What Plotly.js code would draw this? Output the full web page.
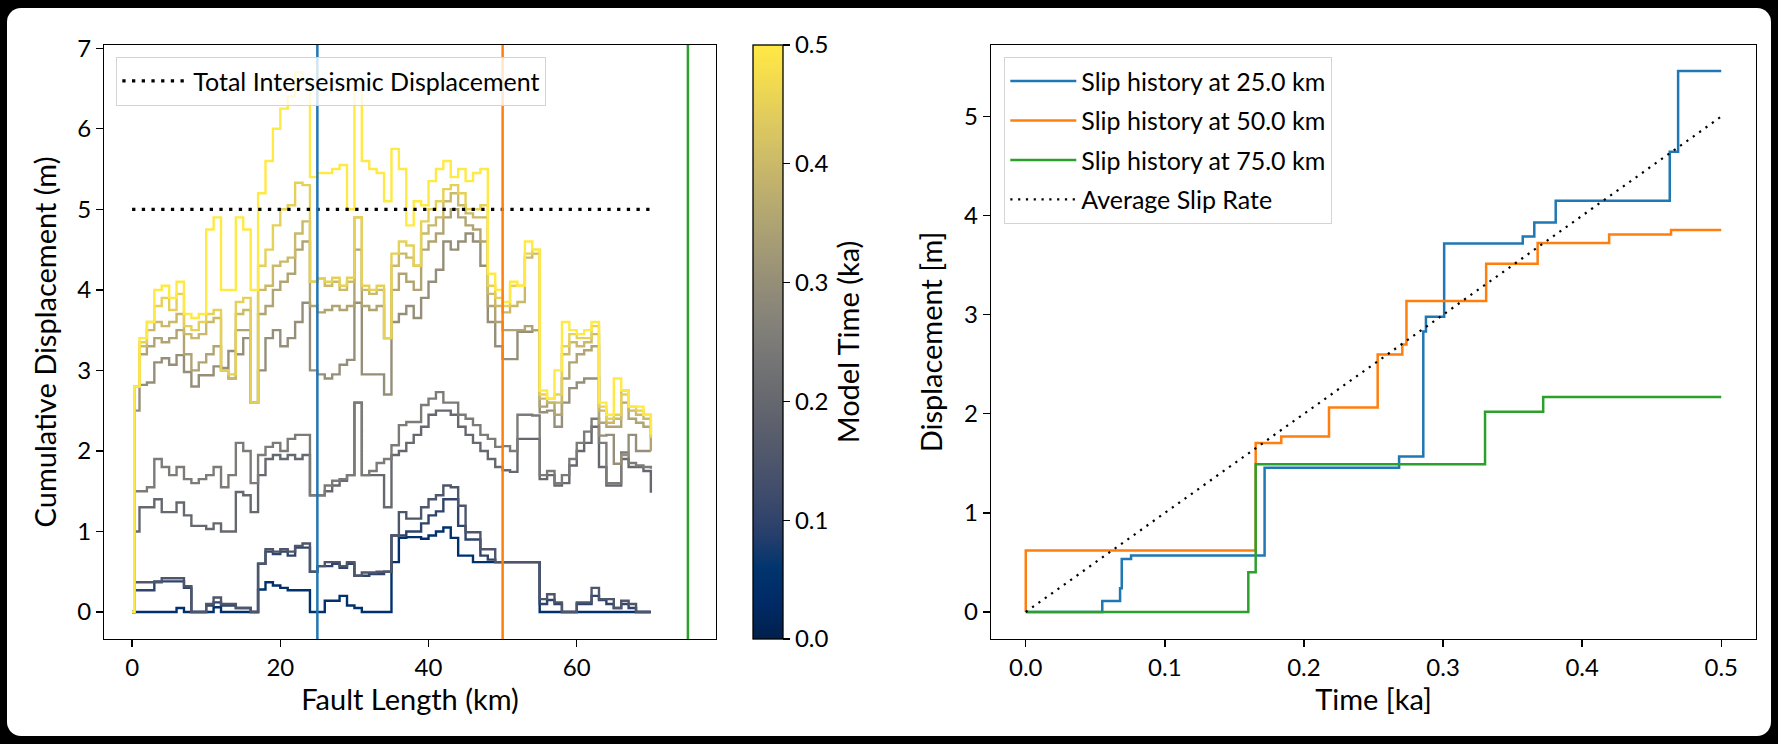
<!DOCTYPE html>
<html>
<head>
<meta charset="utf-8">
<script src="https://cdn.plot.ly/plotly-3.0.1.min.js"></script>
<style>
html,body{margin:0;padding:0;background:#000;}
#frame{position:absolute;left:7px;top:8px;width:1764px;height:728px;background:#fff;border-radius:14px;}
#chart{position:absolute;left:0;top:0;width:1778px;height:744px;}
</style>
</head>
<body>
<div id="frame"></div>
<div id="chart"></div>
<script>
// ---------- Left panel data: cumulative displacement along the fault ----------
const faultKm = [0, 0.3, 1, 2, 3, 4, 5, 6, 7, 8, 9, 10, 11, 12, 13, 14, 15, 16, 17, 18, 19, 20,
  21, 22, 23, 24, 25, 26, 27, 28, 29, 30, 31, 32, 33, 34, 35, 36, 37, 38, 39, 40,
  41, 42, 43, 44, 45, 46, 47, 48, 49, 50, 51, 52, 53, 54, 55, 56, 57, 58, 59, 60,
  61, 62, 63, 64, 65, 66, 67, 68, 69, 70];

const snapshotTimes = [0.05, 0.10, 0.15, 0.20, 0.25, 0.30, 0.35, 0.40, 0.45, 0.50];

const disp_t005 = [0, 0,
  0, 0, 0, 0, 0, 0.05, 0, 0, 0, 0,
  0.06, 0, 0, 0, 0, 0, 0.28, 0.37, 0.33, 0.3,
  0.27, 0.27, 0.27, 0, 0, 0.14, 0.14, 0.2, 0.08, 0.05,
  0, 0, 0, 0, 0.62, 0.92, 0.93, 0.93, 0.91, 0.95,
  1.0, 1.05, 0.92, 0.7, 0.7, 0.62, 0.62, 0.62, 0.62, 0.62,
  0.62, 0.62, 0.62, 0.62, 0, 0, 0, 0, 0, 0,
  0, 0, 0, 0, 0, 0, 0, 0, 0, 0];
const disp_t010 = [0, 0.27,
  0.27, 0.27, 0.38, 0.38, 0.38, 0.38, 0.3, 0, 0, 0.08,
  0.12, 0.08, 0.08, 0.05, 0.05, 0, 0.6, 0.75, 0.72, 0.75,
  0.7, 0.8, 0.8, 0.5, 0.57, 0.57, 0.6, 0.55, 0.6, 0.45,
  0.45, 0.47, 0.47, 0.5, 0.95, 0.95, 1.0, 1.0, 1.1, 1.2,
  1.25, 1.4, 1.4, 1.07, 0.9, 0.9, 0.7, 0.65, 0.62, 0.62,
  0.62, 0.62, 0.62, 0.62, 0.1, 0.15, 0.1, 0, 0, 0.1,
  0.1, 0.2, 0.15, 0.1, 0.05, 0.1, 0.05, 0, 0, 0];
const disp_t015 = [0, 0.37,
  0.37, 0.37, 0.37, 0.42, 0.42, 0.42, 0.32, 0, 0, 0.1,
  0.18, 0.1, 0.1, 0.05, 0.05, 0, 0.6, 0.78, 0.75, 0.78,
  0.75, 0.82, 0.85, 0.5, 0.57, 0.62, 0.62, 0.57, 0.62, 0.45,
  0.49, 0.49, 0.5, 0.5, 0.95, 1.24, 1.16, 1.16, 1.3, 1.4,
  1.45, 1.57, 1.55, 1.32, 0.99, 0.99, 0.78, 0.78, 0.62, 0.62,
  0.62, 0.62, 0.62, 0.62, 0.16, 0.22, 0.12, 0, 0, 0.12,
  0.12, 0.3, 0.16, 0.16, 0.05, 0.14, 0.1, 0, 0, 0];
const disp_t020 = [0, 1.0,
  1.3, 1.3, 1.4, 1.24, 1.24, 1.36, 1.2, 1.07, 1.07, 1.03,
  1.1, 1.0, 1.0, 1.49, 1.45, 1.24, 1.7, 1.9, 1.95, 1.9,
  1.95, 1.9, 1.95, 1.45, 1.45, 1.5, 1.57, 1.63, 1.7, 2.6,
  1.7, 1.7, 1.7, 1.3, 1.95, 2.0, 2.1, 2.2, 2.3, 2.45,
  2.5, 2.5, 2.45, 2.3, 2.2, 2.1, 2.0, 1.9, 1.8, 1.76,
  1.74, 2.15, 2.15, 2.15, 1.65, 1.7, 1.57, 1.6, 1.82, 2.0,
  2.1, 2.3, 1.8, 1.57, 1.57, 1.9, 1.8, 1.8, 1.75, 1.48];
const disp_t025 = [0, 1.5,
  1.5, 1.55, 1.9, 1.8, 1.7, 1.8, 1.65, 1.6, 1.65, 1.7,
  1.8, 1.55, 1.7, 2.1, 2.0, 1.6, 1.95, 2.05, 2.1, 2.0,
  2.15, 2.2, 2.2, 1.45, 1.45, 1.57, 1.63, 1.65, 1.7, 2.6,
  1.7, 1.75, 1.85, 1.9, 2.07, 2.32, 2.36, 2.36, 2.57, 2.65,
  2.73, 2.6, 2.6, 2.45, 2.4, 2.32, 2.2, 2.15, 2.05, 2.06,
  2.0, 2.45, 2.45, 2.44, 1.7, 1.75, 1.6, 1.7, 1.9, 2.1,
  2.24, 2.4, 2.1, 1.6, 1.6, 1.98, 1.85, 1.82, 1.8, 1.78];
const disp_t030 = [0, 2.5,
  2.82, 2.85, 3.1, 3.15, 3.07, 3.19, 2.98, 2.8, 2.94, 2.94,
  3.05, 3.03, 3.24, 3.2, 3.4, 2.6, 3.0, 3.4, 3.5, 3.3,
  3.4, 3.6, 3.84, 3.0, 2.95, 2.9, 2.95, 3.07, 3.13, 3.84,
  2.95, 2.95, 2.95, 2.7, 3.6, 3.7, 3.8, 3.65, 3.9, 4.1,
  4.25, 4.6, 4.5, 4.6, 4.7, 4.6, 4.3, 3.6, 3.3, 3.14,
  3.14, 3.48, 3.48, 3.5, 2.48, 2.5, 2.3, 2.6, 2.78, 2.85,
  2.9, 2.9, 2.19, 2.2, 1.84, 1.95, 2.2, 2.0, 2.0, 2.0];
const disp_t035 = [0, 2.8,
  3.2, 3.3, 3.4, 3.35, 3.4, 3.5, 3.2, 3.0, 3.1, 3.2,
  3.3, 3.0, 2.9, 3.5, 3.5, 2.6, 3.7, 3.8, 4.0, 4.1,
  4.2, 4.5, 4.6, 3.8, 3.72, 3.75, 3.8, 3.75, 3.8, 4.5,
  3.8, 3.75, 3.8, 3.4, 4.0, 4.2, 4.1, 4.0, 4.5, 4.6,
  4.7, 4.9, 5.0, 4.9, 4.8, 4.75, 4.6, 3.8, 3.6, 3.5,
  3.5, 3.5, 3.55, 3.5, 2.55, 2.6, 2.45, 2.9, 3.1, 3.2,
  3.25, 3.3, 2.35, 2.3, 2.3, 2.6, 2.4, 2.35, 2.3, 2.0];
const disp_t040 = [0, 2.8,
  3.3, 3.5, 3.6, 3.55, 3.6, 3.7, 3.45, 3.4, 3.45, 3.6,
  3.65, 3.0, 2.9, 3.7, 3.75, 2.6, 4.0, 4.05, 4.3, 4.35,
  4.4, 4.7, 4.85, 4.1, 4.14, 4.05, 4.1, 4.0, 4.1, 4.9,
  4.0, 3.95, 4.0, 3.4, 4.3, 4.45, 4.4, 4.3, 4.7, 4.8,
  4.9, 5.1, 5.2, 5.05, 4.95, 4.9, 4.9, 3.95, 3.8, 3.72,
  3.8, 3.85, 4.4, 4.45, 2.65, 2.6, 2.6, 3.2, 3.35, 3.3,
  3.35, 3.45, 2.5, 2.35, 2.4, 2.75, 2.5, 2.45, 2.4, 2.16];
const disp_t045 = [0, 2.8,
  3.35, 3.6, 3.8, 3.9, 3.75, 3.95, 3.55, 3.5, 3.6, 3.7,
  3.75, 3.0, 2.95, 3.85, 3.9, 2.6, 4.3, 4.5, 4.8, 5.0,
  5.05, 5.33, 5.3, 4.1, 4.14, 4.1, 4.15, 4.05, 4.15, 4.9,
  4.05, 4.0, 4.05, 3.4, 4.45, 4.6, 4.55, 4.3, 4.85, 5.0,
  5.1, 5.25, 5.3, 5.2, 5.0, 5.0, 5.05, 4.05, 3.9, 3.8,
  4.05, 4.05, 4.45, 4.5, 2.7, 2.65, 2.7, 3.3, 3.45, 3.4,
  3.4, 3.55, 2.55, 2.4, 2.45, 2.7, 2.55, 2.5, 2.45, 2.16];
const disp_t050 = [0, 2.8,
  3.4, 3.6, 4.0, 4.05, 3.9, 4.1, 3.7, 3.65, 3.7, 4.75,
  4.9, 4.0, 4.0, 4.9, 4.75, 4.0, 5.2, 5.6, 6.0, 6.25,
  6.4, 6.7, 6.6, 5.4, 5.45, 5.45, 5.5, 5.55, 5.0, 6.6,
  5.6, 5.5, 5.45, 5.1, 5.75, 5.5, 4.8, 5.1, 5.05, 5.35,
  5.5, 5.6, 5.4, 5.5, 5.35, 5.45, 5.5, 4.2, 4.0, 3.85,
  4.1, 4.05, 4.6, 4.5, 2.75, 2.65, 3.0, 3.6, 3.5, 3.45,
  3.5, 3.6, 2.6, 2.45, 2.9, 2.75, 2.55, 2.55, 2.45, 2.2];

const snapshotSeries = [disp_t005, disp_t010, disp_t015, disp_t020, disp_t025,
                        disp_t030, disp_t035, disp_t040, disp_t045, disp_t050];

const totalInterseismic = 5.0;
const totalLineKm = [0, 70];
const slipLocationsKm = [25, 50, 75];
const slipColors = ['#1f77b4', '#ff7f0e', '#2ca02c'];
const modelTimeMax = 0.5;
const colorbarTicks = [0, 0.1, 0.2, 0.3, 0.4, 0.5];

// ---------- Right panel data: slip histories ----------
const t25 = [0, 0.055, 0.0678, 0.069, 0.0757, 0.1717, 0.2684, 0.2858, 0.2877, 0.3008, 0.3573, 0.3656, 0.381, 0.463, 0.469, 0.5];
const d25 = [0, 0.11, 0.24, 0.535, 0.57, 1.455, 1.57, 2.83, 2.98, 3.72, 3.79, 3.93, 4.15, 4.645, 5.46, 5.46];
const t50 = [0, 0, 0.1653, 0.1837, 0.218, 0.253, 0.2707, 0.2737, 0.331, 0.368, 0.4194, 0.4639, 0.5];
const d50 = [0, 0.62, 1.705, 1.77, 2.065, 2.6, 2.7, 3.14, 3.515, 3.725, 3.81, 3.855, 3.855];
const t75 = [0, 0.16, 0.1653, 0.3302, 0.372, 0.5];
const d75 = [0, 0.4, 1.49, 2.02, 2.17, 2.17];
const avgT = [0, 0.5];
const avgD = [0, 5.0];
const historyLabels = ['Slip history at 25.0 km', 'Slip history at 50.0 km', 'Slip history at 75.0 km'];

// ---------- colours ----------
const cividis = [
 [0.000000, 'rgb(0,32,76)'], [0.058824, 'rgb(0,42,102)'], [0.117647, 'rgb(0,52,110)'],
 [0.176471, 'rgb(39,63,108)'], [0.235294, 'rgb(60,74,107)'], [0.294118, 'rgb(76,85,107)'],
 [0.352941, 'rgb(91,95,109)'], [0.411765, 'rgb(104,106,112)'], [0.470588, 'rgb(117,117,117)'],
 [0.529412, 'rgb(131,129,120)'], [0.588235, 'rgb(146,140,120)'], [0.647059, 'rgb(161,152,118)'],
 [0.705882, 'rgb(176,165,114)'], [0.764706, 'rgb(192,177,109)'], [0.823529, 'rgb(209,191,102)'],
 [0.882353, 'rgb(225,204,92)'], [0.941176, 'rgb(243,219,79)'], [1.000000, 'rgb(255,233,69)']
];
function parseRgb(s){ return s.match(/\d+/g).map(Number); }
function cividisAt(v){
  v = Math.max(0, Math.min(1, v));
  for (let i = 1; i < cividis.length; i++) {
    if (v <= cividis[i][0]) {
      const a = cividis[i-1], b = cividis[i];
      const f = (v - a[0]) / (b[0] - a[0]);
      const ca = parseRgb(a[1]), cb = parseRgb(b[1]);
      const c = ca.map((x, k) => Math.round(x + f * (cb[k] - x)));
      return 'rgb(' + c.join(',') + ')';
    }
  }
  return cividis[cividis.length-1][1];
}

const FONT = 'Lato, "Noto Sans", sans-serif';
const TICK = 24, TITLE = 29, LEG = 25;
const traces = [];

snapshotSeries.forEach((ys, i) => {
  traces.push({
    type: 'scatter', mode: 'lines', x: faultKm, y: ys,
    line: {shape: 'hv', color: cividisAt(snapshotTimes[i] / modelTimeMax), width: 2.4},
    showlegend: false, hoverinfo: 'skip', xaxis: 'x', yaxis: 'y'
  });
});

traces.push({
  type: 'scatter', mode: 'lines', x: totalLineKm, y: [totalInterseismic, totalInterseismic],
  line: {color: '#000', width: 3.3, dash: '3.3px,6.4px'},
  name: 'Total Interseismic Displacement', legend: 'legend', showlegend: true,
  xaxis: 'x', yaxis: 'y', hoverinfo: 'skip'
});

// colour bar carrier
traces.push({
  type: 'scatter', mode: 'markers', x: [null], y: [null], xaxis: 'x', yaxis: 'y',
  showlegend: false, hoverinfo: 'skip',
  marker: {
    color: [0], cmin: 0, cmax: modelTimeMax, colorscale: cividis, showscale: true,
    colorbar: {
      x: 753.3 / 1778, xanchor: 'left', xref: 'paper', y: 0.5, yanchor: 'middle',
      len: 1, lenmode: 'fraction', ypad: 0, xpad: 0,
      thickness: 30, thicknessmode: 'pixels',
      outlinewidth: 1.3, outlinecolor: '#000',
      ticks: 'outside', ticklen: 7, tickwidth: 1.3, tickcolor: '#000',
      tickvals: colorbarTicks, tickformat: '.1f', tickprefix: '\u00a0\u00a0',
      tickfont: {family: FONT, size: TICK, color: '#000'},
      title: {text: 'Model Time (ka)', side: 'right', font: {family: FONT, size: TITLE, color: '#000'}}
    }
  }
});

const hist = [[t25, d25], [t50, d50], [t75, d75]];
hist.forEach((h, i) => {
  traces.push({
    type: 'scatter', mode: 'lines', x: h[0], y: h[1],
    line: {shape: 'hv', color: slipColors[i], width: 2.5},
    name: historyLabels[i], legend: 'legend2', legendgroup: 'g' + i,
    xaxis: 'x2', yaxis: 'y2', hoverinfo: 'skip'
  });
});
traces.push({
  type: 'scatter', mode: 'lines', x: avgT, y: avgD,
  line: {color: '#000', width: 2.2, dash: '2.2px,5.6px'},
  name: 'Average Slip Rate', legend: 'legend2', legendgroup: 'g3',
  xaxis: 'x2', yaxis: 'y2', hoverinfo: 'skip'
});

const axBase = {
  showline: true, mirror: true, linecolor: '#000', linewidth: 1.3,
  ticks: 'outside', ticklen: 7, tickwidth: 1.3, tickcolor: '#000',
  showgrid: false, zeroline: false,
  tickfont: {family: FONT, size: TICK, color: '#000'}
};
const titleFont = {family: FONT, size: TITLE, color: '#000'};

const shapes = slipLocationsKm.map((k, i) => ({
  type: 'line', xref: 'x', yref: 'y domain', x0: k, x1: k, y0: 0, y1: 1,
  line: {color: slipColors[i], width: 2.5}, layer: 'above'
}));

const layout = {
  width: 1778, height: 744,
  margin: {l: 0, r: 0, t: 45, b: 105},
  paper_bgcolor: 'rgba(0,0,0,0)', plot_bgcolor: '#fff',
  font: {family: FONT, color: '#000'},
  xaxis: Object.assign({}, axBase, {
    domain: [104.3 / 1778, 715.7 / 1778], range: [-3.75, 78.75],
    tickvals: [0, 20, 40, 60], anchor: 'y',
    title: {text: 'Fault Length (km)', font: titleFont, standoff: 8}
  }),
  yaxis: Object.assign({}, axBase, {
    domain: [0, 1], range: [-0.335, 7.04], dtick: 1, anchor: 'x',
    title: {text: 'Cumulative Displacement (m)', font: titleFont, standoff: 12}
  }),
  xaxis2: Object.assign({}, axBase, {
    domain: [991 / 1778, 1756 / 1778], range: [-0.025, 0.525],
    tickvals: [0, 0.1, 0.2, 0.3, 0.4, 0.5], tickformat: '.1f', anchor: 'y2',
    title: {text: 'Time [ka]', font: titleFont, standoff: 8}
  }),
  yaxis2: Object.assign({}, axBase, {
    domain: [0, 1], range: [-0.2725, 5.7225], dtick: 1, anchor: 'x2',
    title: {text: 'Displacement [m]', font: titleFont, standoff: 12}
  }),
  shapes: shapes,
  legend: {
    x: 116 / 1778, y: 0.98, xanchor: 'left', yanchor: 'top',
    bgcolor: 'rgba(255,255,255,0.8)', bordercolor: '#d4d4d4', borderwidth: 1.3,
    font: {family: FONT, size: LEG, color: '#000'}, itemwidth: 66
  },
  legend2: {
    x: 1004 / 1778, y: 0.98, xanchor: 'left', yanchor: 'top',
    bgcolor: 'rgba(255,255,255,0.8)', bordercolor: '#d4d4d4', borderwidth: 1.3,
    font: {family: FONT, size: LEG, color: '#000'}, tracegroupgap: 4, itemwidth: 66
  },
  showlegend: true
};

Plotly.newPlot('chart', traces, layout, {displayModeBar: false, staticPlot: true});
</script>
</body>
</html>
